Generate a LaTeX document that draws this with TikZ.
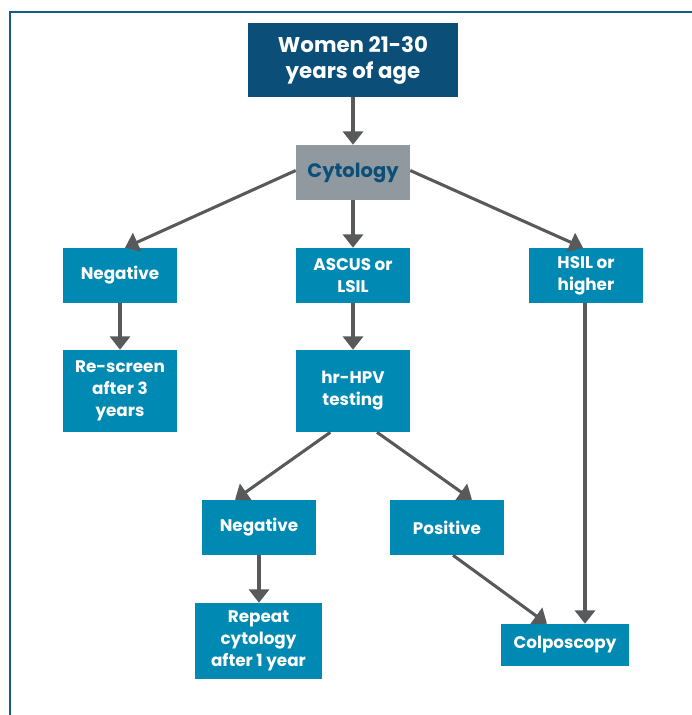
\documentclass[tikz,border=0pt]{standalone}
\usepackage{fontspec}
\setmainfont{Poppins}
\usetikzlibrary{arrows.meta, calc}

\definecolor{navyblue}{HTML}{0B4F79}
\definecolor{tealblue}{HTML}{0089B2}
\definecolor{boxgray}{HTML}{9199A0}
\definecolor{arrowgray}{HTML}{58595B}
\definecolor{framblue}{HTML}{155B84}

\begin{document}
\begin{tikzpicture}[
        x=0.75pt, y=-0.75pt,
        font=\bfseries,
        flow/.style={-{Triangle[width=15pt, length=10pt]}, line width=2.3pt, draw=arrowgray},
        top_box/.style={fill=navyblue, text=white, align=center, minimum width=157.5pt, minimum height=55.5pt, inner sep=0pt, font=\bfseries\fontsize{16}{19.5}\selectfont},
        gray_box/.style={fill=boxgray, text=navyblue, align=center, minimum width=85.5pt, minimum height=41.25pt, inner sep=0pt, font=\bfseries\fontsize{14.6}{18}\selectfont},
        step_box/.style={fill=tealblue, text=white, align=center, minimum width=85.5pt, minimum height=41.25pt, inner sep=0pt, font=\bfseries\fontsize{12.6}{16.5}\selectfont}
    ]

    \useasboundingbox (0,0) rectangle (692,715);

    % ========================================================
    % 1. FRAME
    % ========================================================
    \draw[framblue, line width=1.6pt] (10,715) -- (10,12) -- (692,12);

    % ========================================================
    % 2. BOXES
    % ========================================================
    \node[top_box] (women) at (353,60) {Women 21-30\\ years of age};
    \node[gray_box] (cyto) at (353,172.5) {Cytology};

    % -- row 1
    \node[step_box] (neg_a) at (120,275.5) {Negative};
    \node[step_box] (ascus) at (353,275.5) {ASCUS or\\ LSIL};
    \node[step_box] (hsil) at (586,275.5) {HSIL or\\ higher};

    % -- row 2
    \node[step_box, minimum height=61.5pt] (rescreen) at (120,391) {Re-screen\\ after 3\\ years};
    \node[step_box, minimum height=61.5pt] (hpv) at (353,391) {hr-HPV\\ testing};

    % -- row 3
    \node[step_box] (neg_b) at (259,527.5) {Negative};
    \node[step_box] (pos) at (447,527.5) {Positive};

    % -- row 4
    \node[step_box, minimum width=95.25pt, minimum height=57pt] (repeat) at (258.5,641) {Repeat\\ cytology\\ after 1 year};
    \node[step_box, minimum width=96pt, minimum height=31.5pt] (colpo) at (565,645) {Colposcopy};

    % ========================================================
    % 3. ARROWS
    % ========================================================
    \draw[flow] (women.south) -- (cyto.north);
    \draw[flow] ([yshift=1.5pt]cyto.west) -- ([xshift=3.75pt]neg_a.north);
    \draw[flow] (cyto.south) -- (ascus.north);
    \draw[flow] ([yshift=1.5pt]cyto.east) -- ([xshift=-2.25pt]hsil.north);

    \draw[flow] (neg_a.south) -- (neg_a.south |- rescreen.north);
    \draw[flow] (ascus.south) -- (hpv.north);

    \draw[flow] ([xshift=-17pt]hpv.south) -- ([xshift=-18pt]neg_b.north);
    \draw[flow] ([xshift=18pt]hpv.south) -- ([xshift=18.75pt]pos.north);

    \draw[flow] (neg_b.south) -- (neg_b.south |- repeat.north);
    \draw[flow] ([xshift=4.5pt]pos.south) -- ([xshift=-13.5pt]colpo.north);
    \draw[flow] ([xshift=-0.75pt]hsil.south) -- ([xshift=-0.75pt]hsil.south |- colpo.north);

    \end{tikzpicture}
\end{document}
